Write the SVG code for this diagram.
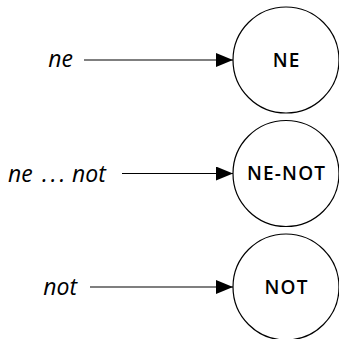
<svg xmlns="http://www.w3.org/2000/svg" width="339" height="339" viewBox="0 0 339 339">
<style>
.node{fill:#fff;stroke:#000;stroke-width:1.2}
.nl{font-family:"Open Sans","Noto Sans",sans-serif;font-size:19px;font-weight:600;letter-spacing:1.2px;text-anchor:middle;fill:#000}
.el{font-family:"Open Sans","Noto Sans",sans-serif;font-size:23px;font-style:italic;fill:#000}
.edge{stroke:#000;stroke-width:1.2;fill:none;marker-end:url(#ah)}
</style>
<defs>
<marker id="ah" markerWidth="17" markerHeight="14" refX="17" refY="7" orient="auto" markerUnits="userSpaceOnUse">
<path d="M0,0 L17,7 L0,14 Z" fill="#000"/>
</marker>
</defs>
<rect width="339" height="339" fill="#fff"/>
<g id="connectors">
<line class="edge" x1="84" y1="60" x2="233" y2="60"/>
<text class="el" x="73" y="66.5" text-anchor="end">ne</text>
<line class="edge" x1="122" y1="173.5" x2="233" y2="173.5"/>
<text class="el" y="181.5"><tspan x="8">ne</tspan> <tspan x="42" letter-spacing="3">...</tspan> <tspan x="72">not</tspan></text>
<line class="edge" x1="90" y1="287" x2="233" y2="287"/>
<text class="el" x="77" y="295" text-anchor="end">not</text>
</g>
<g id="NE">
<circle class="node" cx="286" cy="60" r="53"/>
<text class="nl" x="286.6" y="66.8">NE</text>
</g>
<g id="NE-NOT">
<circle class="node" cx="286" cy="173.5" r="53"/>
<text class="nl" x="286.6" y="180.3">NE-NOT</text>
</g>
<g id="NOT">
<circle class="node" cx="286" cy="287" r="53"/>
<text class="nl" x="286.6" y="293.8">NOT</text>
</g>
</svg>
